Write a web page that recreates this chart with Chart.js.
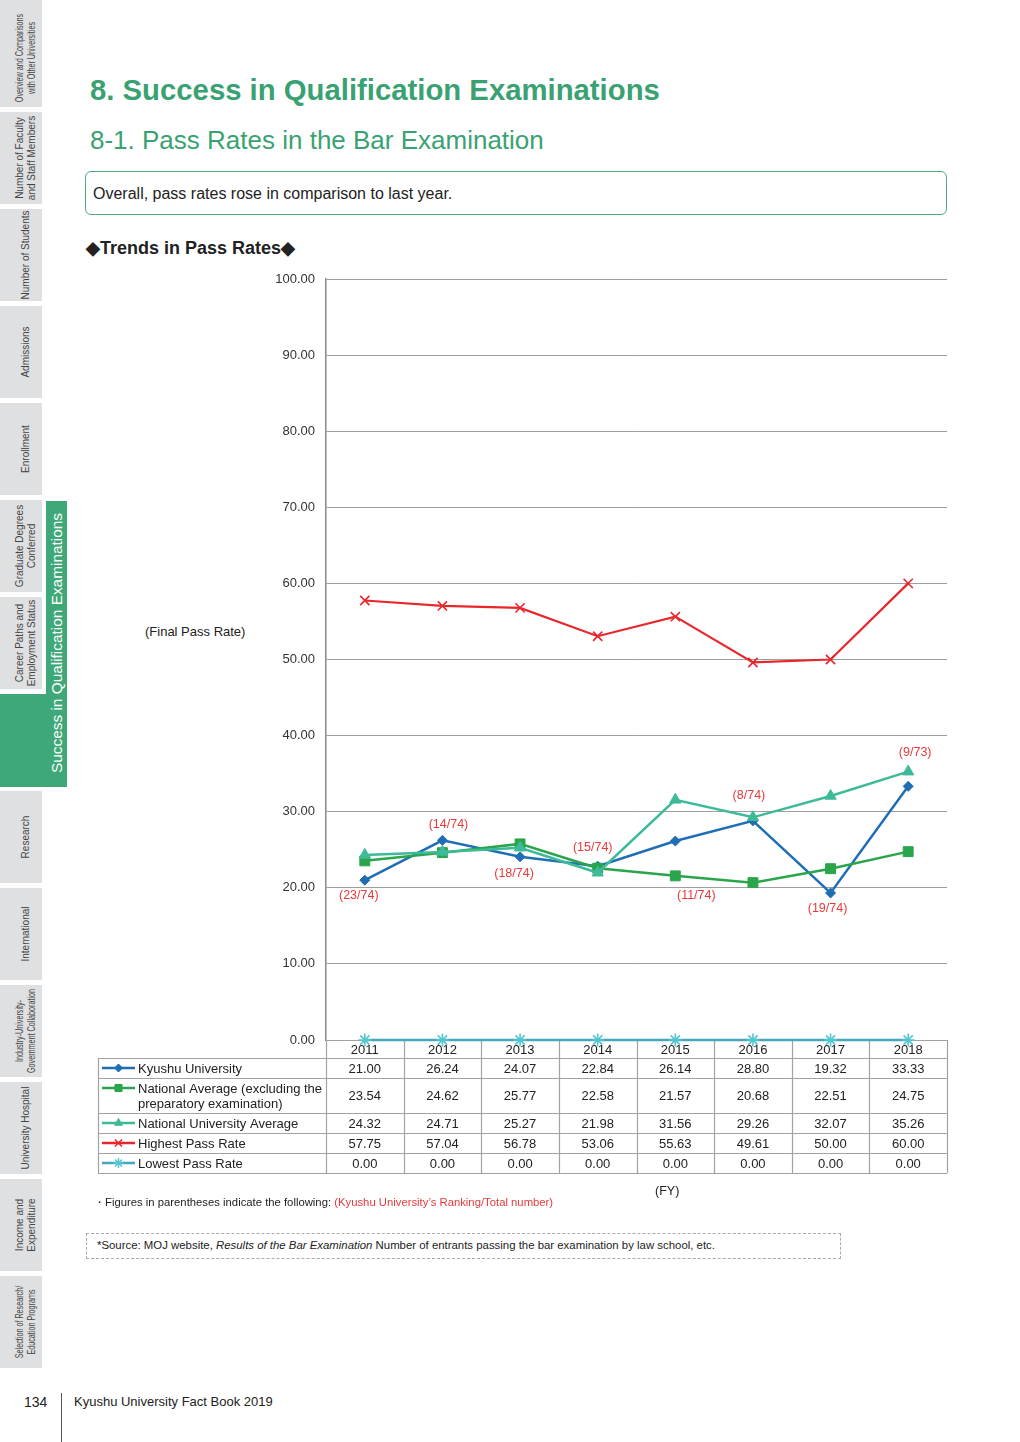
<!DOCTYPE html>
<html><head><meta charset="utf-8">
<script src="https://cdn.jsdelivr.net/npm/chart.js@4.4.0/dist/chart.umd.min.js"></script>
<style>
html,body{margin:0;padding:0;background:#fff;}
body{width:1020px;height:1442px;position:relative;overflow:hidden;font-family:"Liberation Sans",Arial,Helvetica,sans-serif;color:#222;}
.tab{position:absolute;left:0;width:42px;height:92px;background:#dfe0e2;}
.tab span{position:absolute;left:26px;top:50%;transform:translate(-50%,-50%) rotate(-90deg);white-space:nowrap;text-align:center;font-size:10px;line-height:12px;color:#444;}
.tab span.nar{transform:translate(-50%,-50%) rotate(-90deg) scaleX(0.72);}
.green{position:absolute;background:#3fa878;}
.abs{position:absolute;white-space:nowrap;}
#h1{left:90px;top:72px;font-size:29.3px;font-weight:bold;color:#3aa272;line-height:36px;}
#h2{left:90px;top:124px;font-size:26px;color:#3aa272;line-height:32px;}
#box{left:85px;top:171px;width:860px;height:42px;border:1.5px solid #4cad7f;border-radius:6px;}
#box span{position:absolute;left:7px;top:13px;font-size:16px;line-height:18px;color:#222;}
#h3{left:86px;top:237px;font-size:18px;font-weight:bold;color:#222;line-height:22px;}
#wrap{position:absolute;left:0;top:260px;width:1020px;height:940px;}
</style></head>
<body>
<div class="tab" style="top:0;height:107px"><span class="nar" style="top:58px">Overview and Comparisons<br>with Other Universities</span></div>
<div class="tab" style="top:112px"><span>Number of Faculty<br>and Staff Members</span></div>
<div class="tab" style="top:209px"><span>Number of Students</span></div>
<div class="tab" style="top:306px"><span>Admissions</span></div>
<div class="tab" style="top:403px"><span>Enrollment</span></div>
<div class="tab" style="top:500px"><span>Graduate Degrees<br>Conferred</span></div>
<div class="tab" style="top:597px"><span>Career Paths and<br>Employment Status</span></div>
<div class="green" style="left:0;top:694px;width:67px;height:93px"></div>
<div class="green" style="left:46px;top:501px;width:21px;height:286px"></div>
<div class="abs" style="left:57px;top:643px;transform:translate(-50%,-50%) rotate(-90deg);font-size:15.4px;color:#fff;line-height:18px;">Success in Qualification Examinations</div>
<div class="tab" style="top:791px"><span>Research</span></div>
<div class="tab" style="top:888px"><span>International</span></div>
<div class="tab" style="top:985px"><span class="nar">Industry-University-<br>Government Collaboration</span></div>
<div class="tab" style="top:1082px"><span>University Hospital</span></div>
<div class="tab" style="top:1179px"><span>Income and<br>Expenditure</span></div>
<div class="tab" style="top:1276px"><span class="nar">Selection of Research/<br>Education Programs</span></div>

<div id="h1" class="abs">8. Success in Qualification Examinations</div>
<div id="h2" class="abs">8-1. Pass Rates in the Bar Examination</div>
<div id="box" class="abs"><span>Overall, pass rates rose in comparison to last year.</span></div>
<div id="h3" class="abs">◆Trends in Pass Rates◆</div>
<div class="abs" style="left:145px;top:624px;font-size:13px;line-height:16px;color:#222;">(Final Pass Rate)</div>

<div id="wrap"><canvas id="c" width="1020" height="940"></canvas></div>

<div class="abs" style="left:655px;top:1183px;font-size:12.5px;line-height:16px;color:#222;">(FY)</div>
<div class="abs" style="left:94px;top:1195px;font-size:11.3px;line-height:15px;color:#222;">・Figures in parentheses indicate the following: <span style="color:#e8393a">(Kyushu University’s Ranking/Total number)</span></div>
<div class="abs" style="left:86px;top:1233px;width:753px;height:24px;border:1px dashed #aaa;"></div>
<div class="abs" style="left:97px;top:1238px;font-size:11.4px;line-height:15px;color:#222;">*Source: MOJ website, <i>Results of the Bar Examination</i> Number of entrants passing the bar examination by law school, etc.</div>

<div class="abs" style="left:24px;top:1393px;font-size:14px;line-height:18px;color:#222;">134</div>
<div class="abs" style="left:61px;top:1393px;width:1px;height:49px;background:#555;"></div>
<div class="abs" style="left:74px;top:1394px;font-size:13px;line-height:16px;color:#222;">Kyushu University Fact Book 2019</div>

<script>
// ---- data ----
const years = ['2011','2012','2013','2014','2015','2016','2017','2018'];
const kyushu = [21.00, 26.24, 24.07, 22.84, 26.14, 28.80, 19.32, 33.33];
const nationalAverage = [23.54, 24.62, 25.77, 22.58, 21.57, 20.68, 22.51, 24.75];
const nationalUnivAverage = [24.32, 24.71, 25.27, 21.98, 31.56, 29.26, 32.07, 35.26];
const highestRate = [57.75, 57.04, 56.78, 53.06, 55.63, 49.61, 50.00, 60.00];
const lowestRate = [0.00, 0.00, 0.00, 0.00, 0.00, 0.00, 0.00, 0.00];
const rankings = ['(23/74)','(14/74)','(18/74)','(15/74)','(11/74)','(8/74)','(19/74)','(9/73)'];
const seriesNames = [
  ['Kyushu University'],
  ['National Average (excluding the','preparatory examination)'],
  ['National University Average'],
  ['Highest Pass Rate'],
  ['Lowest Pass Rate']
];
const yTicks = {min:0, max:100, step:10};

// ---- styles ----
const FONT = '"Liberation Sans", Arial, sans-serif';
const styles = [
  {color:'#1f6db5', mark:'#1f6db5', point:'rectRot', r:5, lw:2.5, lr:4, order:5},
  {color:'#2ba54c', mark:'#2ba54c', point:'rect', r:7, lw:2.5, lr:5, order:4},
  {color:'#3dba98', mark:'#3dba98', point:'triangle', r:6.5, lw:2.5, lr:4.5, order:3},
  {color:'#e8262b', mark:'#e8262b', point:'crossRot', r:6.5, lw:2.2, lr:5, order:2},
  {color:'#45a7bf', mark:'#55c6d0', point:'star', r:6.5, lw:2.5, lr:5, order:1}
];
const seriesData = [kyushu, nationalAverage, nationalUnivAverage, highestRate, lowestRate];

const datasets = seriesData.map((d,i)=>({
  label: seriesNames[i].join(' '),
  data: d,
  borderColor: styles[i].color,
  backgroundColor: styles[i].mark,
  borderWidth: styles[i].lw,
  pointStyle: styles[i].point,
  pointRadius: styles[i].r,
  pointBackgroundColor: styles[i].mark,
  pointBorderColor: styles[i].mark,
  pointBorderWidth: (styles[i].point==='crossRot'||styles[i].point==='star') ? 1.6 : 1,
  tension: 0,
  clip: false,
  order: styles[i].order
}));

function drawMarker(ctx, style, r, x, y, color){
  ctx.save();
  ctx.fillStyle = color; ctx.strokeStyle = color;
  ctx.lineWidth = (style==='crossRot'||style==='star') ? 1.5 : 1;
  if (Chart.helpers && Chart.helpers.drawPoint) {
    Chart.helpers.drawPoint(ctx, {pointStyle:style, radius:r, borderWidth:ctx.lineWidth, rotation:0}, x, y);
  }
  ctx.restore();
}

const px = v => Math.round(v) + 0.5;

const tablePlugin = {
  id: 'dataTable',
  beforeDatasetsDraw(chart){
    const {ctx, chartArea: ca, scales: {x}} = chart;
    const bw = x.getPixelForValue(1) - x.getPixelForValue(0);
    const top = ca.bottom;
    const rows = [0,18,38,73,93,113,133].map(v => top + v);
    const leftX = 98;
    ctx.save();
    ctx.strokeStyle = '#a2a2a2';
    ctx.lineWidth = 1.2;
    ctx.beginPath();
    ctx.moveTo(ca.left, px(rows[0])); ctx.lineTo(ca.right, px(rows[0]));
    for (let k=1;k<rows.length;k++){ ctx.moveTo(leftX, px(rows[k])); ctx.lineTo(ca.right, px(rows[k])); }
    ctx.moveTo(px(leftX), rows[1]); ctx.lineTo(px(leftX), rows[6]);
    ctx.moveTo(px(ca.left), rows[0]); ctx.lineTo(px(ca.left), rows[6]);
    for (let i=0;i<years.length;i++){
      const xr = x.getPixelForValue(i) + bw/2;
      ctx.moveTo(px(xr), rows[0]); ctx.lineTo(px(xr), rows[6]);
    }
    ctx.stroke();

    ctx.fillStyle = '#222';
    ctx.font = '13px ' + FONT;
    ctx.textAlign = 'center';
    ctx.textBaseline = 'middle';
    years.forEach((y,i)=> ctx.fillText(y, x.getPixelForValue(i), (rows[0]+rows[1])/2 + 1));
    seriesData.forEach((d,s)=>{
      const cy = (rows[s+1]+rows[s+2])/2 + 1;
      ctx.textAlign = 'center';
      d.forEach((v,i)=> ctx.fillText(v.toFixed(2), x.getPixelForValue(i), cy));
      const names = seriesNames[s];
      const ly0 = names.length > 1 ? cy - 7.5 : cy;
      ctx.textAlign = 'left';
      names.forEach((n,k)=> ctx.fillText(n, 138, ly0 + k*15));
      // legend sample
      ctx.save();
      ctx.strokeStyle = styles[s].color; ctx.lineWidth = 2.5;
      ctx.beginPath(); ctx.moveTo(102, ly0 - 1); ctx.lineTo(135, ly0 - 1); ctx.stroke();
      ctx.restore();
      drawMarker(ctx, styles[s].point, styles[s].lr, 118.5, ly0 - 1, styles[s].mark);
    });
    ctx.restore();
  }
};

const rankOffsets = [[-6,15],[6,-16],[-6,17],[-5,-19],[21,54],[-4,-25],[-3,16],[7,-34]];
const rankPlugin = {
  id: 'ranks',
  afterDatasetsDraw(chart){
    const {ctx} = chart;
    const meta = chart.getDatasetMeta(0);
    ctx.save();
    ctx.fillStyle = '#e8393a';
    ctx.font = '12.5px ' + FONT;
    ctx.textAlign = 'center';
    ctx.textBaseline = 'middle';
    meta.data.forEach((pt,i)=>{
      const o = rankOffsets[i];
      ctx.fillText(rankings[i], pt.x + o[0], pt.y + o[1]);
    });
    ctx.restore();
  }
};

new Chart(document.getElementById('c'), {
  type: 'line',
  data: { labels: years, datasets },
  options: {
    responsive: false,
    animation: false,
    layout: { padding: { left: 0, right: 73, top: 19, bottom: 160 } },
    plugins: { legend: { display: false }, tooltip: { enabled: false } },
    scales: {
      x: { type: 'category', offset: true, display: false },
      y: {
        min: yTicks.min, max: yTicks.max,
        afterFit(s){ s.width = 326; },
        ticks: { stepSize: yTicks.step, callback: v => Number(v).toFixed(2), color: '#333', font: { size: 13, family: FONT }, padding: 11 },
        grid: { color: '#9e9e9e', lineWidth: 1, drawTicks: false },
        border: { display: true, color: '#8a8a8a', width: 1.5 }
      }
    }
  },
  plugins: [tablePlugin, rankPlugin]
});
</script>
</body></html>
